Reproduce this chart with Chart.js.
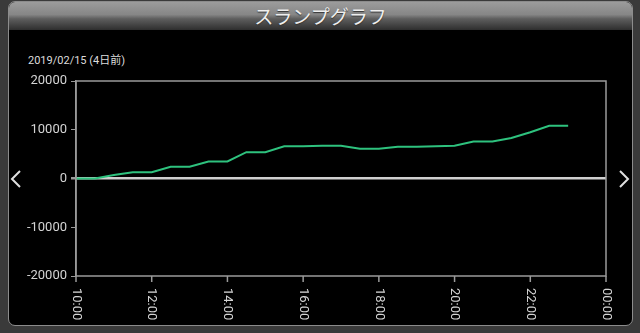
<!DOCTYPE html>
<html><head><meta charset="utf-8">
<script src="https://cdn.jsdelivr.net/npm/chart.js@4"></script>
<style>
html,body{margin:0;padding:0;background:#3a3a3a;width:640px;height:333px;overflow:hidden;font-family:Roboto,"Noto Sans CJK JP",sans-serif;}
#panel{position:absolute;left:8px;top:1px;width:625px;height:325px;background:#000;border:1px solid #8c8c8c;border-radius:7px;box-sizing:border-box;overflow:hidden;}
#header{position:absolute;left:0;top:0;right:0;height:28px;background:linear-gradient(#9c9c9c 0%,#868686 45%,#5e5e5e 60%,#2e2e2e 100%);text-align:center;color:#efefef;font-size:19px;line-height:28px;font-family:"Noto Sans CJK JP",sans-serif;text-shadow:0 1px 1px #333;}
#date{position:absolute;left:28px;top:51px;color:#dcdcdc;font-size:11px;font-family:Roboto,"Noto Sans CJK JP",sans-serif;}
#c{position:absolute;left:0;top:0;}
svg{position:absolute;left:0;top:0;}
</style>
</head><body>
<div id="panel"><div id="header">スランプグラフ</div></div>
<div id="date">2019/02/15 (4日前)</div>
<svg width="640" height="333"><polyline points="20,171 12,179 20,187" fill="none" stroke="#e0e0e0" stroke-width="2"/><polyline points="620,171 628,179 620,187" fill="none" stroke="#e0e0e0" stroke-width="2"/></svg>
<canvas id="c" width="640" height="333"></canvas>
<script>
const categories = ["10:00","10:30","11:00","11:30","12:00","12:30","13:00","13:30","14:00","14:30","15:00","15:30","16:00","16:30","17:00","17:30","18:00","18:30","19:00","19:30","20:00","20:30","21:00","21:30","22:00","22:30","23:00","23:30","00:00"];
const slumpValues = [0,0,700,1300,1300,2400,2400,3500,3500,5400,5400,6600,6600,6700,6700,6100,6100,6500,6500,6600,6700,7600,7600,8300,9500,10800,10800];
const xTickLabels = ["10:00","12:00","14:00","16:00","18:00","20:00","22:00","00:00"];
const yTickValues = [-20000,-10000,0,10000,20000];

const frameColor = '#9a9a9a';
const framePlugin = {
  id: 'frame',
  afterDraw(chart) {
    const {ctx, chartArea: a, scales} = chart;
    ctx.save();
    ctx.strokeStyle = frameColor;
    ctx.lineWidth = 1.5;
    ctx.beginPath();
    ctx.moveTo(a.left, a.top); ctx.lineTo(a.right, a.top);
    ctx.lineTo(a.right, a.bottom); ctx.lineTo(a.left, a.bottom);
    ctx.closePath();
    ctx.stroke();
    const xs = scales.x;
    ctx.fillStyle = '#d4d4d4';
    ctx.font = '13px Roboto';
    ctx.textAlign = 'left';
    ctx.textBaseline = 'middle';
    xTickLabels.forEach(l => {
      const px = xs.getPixelForValue(categories.indexOf(l));
      ctx.beginPath();
      ctx.moveTo(px, a.bottom); ctx.lineTo(px, a.bottom + 6);
      ctx.stroke();
      ctx.save();
      ctx.translate(px, a.bottom + 12);
      ctx.rotate(Math.PI / 2);
      ctx.fillText(l, 0, 0);
      ctx.restore();
    });
    ctx.restore();
  }
};

new Chart(document.getElementById('c'), {
  type: 'line',
  data: {
    labels: categories,
    datasets: [{
      data: slumpValues,
      borderColor: '#2ec27e',
      borderWidth: 2,
      pointRadius: 0,
      tension: 0,
      fill: false
    }]
  },
  options: {
    responsive: false,
    animation: false,
    devicePixelRatio: 1,
    layout: {padding: {left: 0, top: 81, right: 34, bottom: 57}},
    plugins: {legend: {display: false}, tooltip: {enabled: false}},
    scales: {
      x: {
        type: 'category',
        offset: false,
        grid: {display: false},
        border: {display: false},
        ticks: {display: false},
        afterFit(s) { s.height = 0; }
      },
      y: {
        min: -20000, max: 20000,
        afterBuildTicks(s) { s.ticks = yTickValues.map(v => ({value: v})); },
        afterFit(s) { s.width = 76; },
        ticks: {color: '#d4d4d4', font: {family: 'Roboto', size: 13}, padding: 4, callback: v => String(v)},
        grid: {
          drawOnChartArea: true,
          color: c => (c.tick && c.tick.value === 0) ? '#cfcfcf' : 'rgba(0,0,0,0)',
          lineWidth: c => (c.tick && c.tick.value === 0) ? 2.5 : 1,
          tickColor: frameColor,
          tickLength: 5,
          drawTicks: true
        },
        border: {display: true, color: frameColor, width: 1.5}
      }
    }
  },
  plugins: [framePlugin]
});
</script>
</body></html>
